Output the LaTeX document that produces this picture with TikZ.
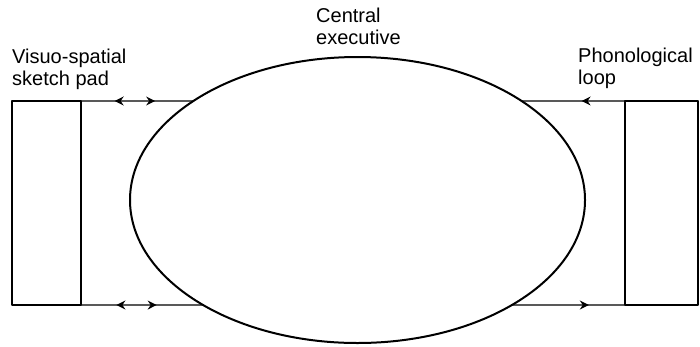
\documentclass[tikz,border=0pt]{standalone}
\usepackage{fontspec}
\setmainfont{Liberation Sans}
\usetikzlibrary{shapes.geometric,arrows.meta,decorations.markings,intersections}

\begin{document}
\begin{tikzpicture}[x=1pt, y=-1pt, line cap=round, line join=round]
% Working memory model, coordinates in pixels of the page
\providecommand{\wmRimWidth}{2pt}
\providecommand{\wmLineWidth}{1.4pt}
\providecommand{\wmTip}{Stealth[length=9pt,width=9pt,inset=3pt]}
\tikzset{
  store/.style={draw, line width=\wmLineWidth, minimum height=204pt, inner sep=0pt, outer sep=0pt},
  plaintext/.style={anchor=north west, inner sep=0pt, align=left, font=\fontsize{20}{22}\selectfont},
  link/.style={line width=\wmLineWidth, postaction={decorate}},
  twoway/.style 2 args={decoration={markings,
      mark=at position #1 with {\arrowreversed{\wmTip}},
      mark=at position #2 with {\arrow{\wmTip}}}},
  oneway/.style={decoration={markings, mark=at position #1 with {\arrow{\wmTip}}}}
}
\useasboundingbox (0,0) rectangle (700,346);
% Central executive
\node[ellipse, draw, line width=\wmRimWidth, minimum width=455pt, minimum height=286pt,
  inner sep=0pt, outer sep=0pt, name path=rim] (exec) at (357.5,200) {};
% Slave systems
\node[store, minimum width=69pt] (sketch) at (46.5,203) {};
\node[store, minimum width=73pt] (loop) at (661.5,203) {};
% Where the links meet the rim
\path[name path=upper] (sketch.north east) -- (loop.north west);
\path[name path=lower] (sketch.south east) -- (loop.south west);
\path[name intersections={of=rim and upper, sort by=upper, by={ul,ur}}];
\path[name intersections={of=rim and lower, sort by=lower, by={ll,lr}}];
% Links
\draw[link, twoway={0.30}{0.66}] (sketch.north east) -- (ul);
\draw[link, twoway={0.29}{0.62}] (sketch.south east) -- (ll);
\draw[link, oneway={0.66}] (loop.north east) -- (ur);
\draw[link, oneway={0.68}] (lr) -- (loop.south west);
% Labels
\node[plaintext] (vsp) at (12,48.5) {Visuo-spatial\\sketch pad};
\node[plaintext] (ce) at (316,8) {Central\\executive};
\node[plaintext] (pl) at (578,47.5) {Phonological\\loop};
\end{tikzpicture}
\end{document}
